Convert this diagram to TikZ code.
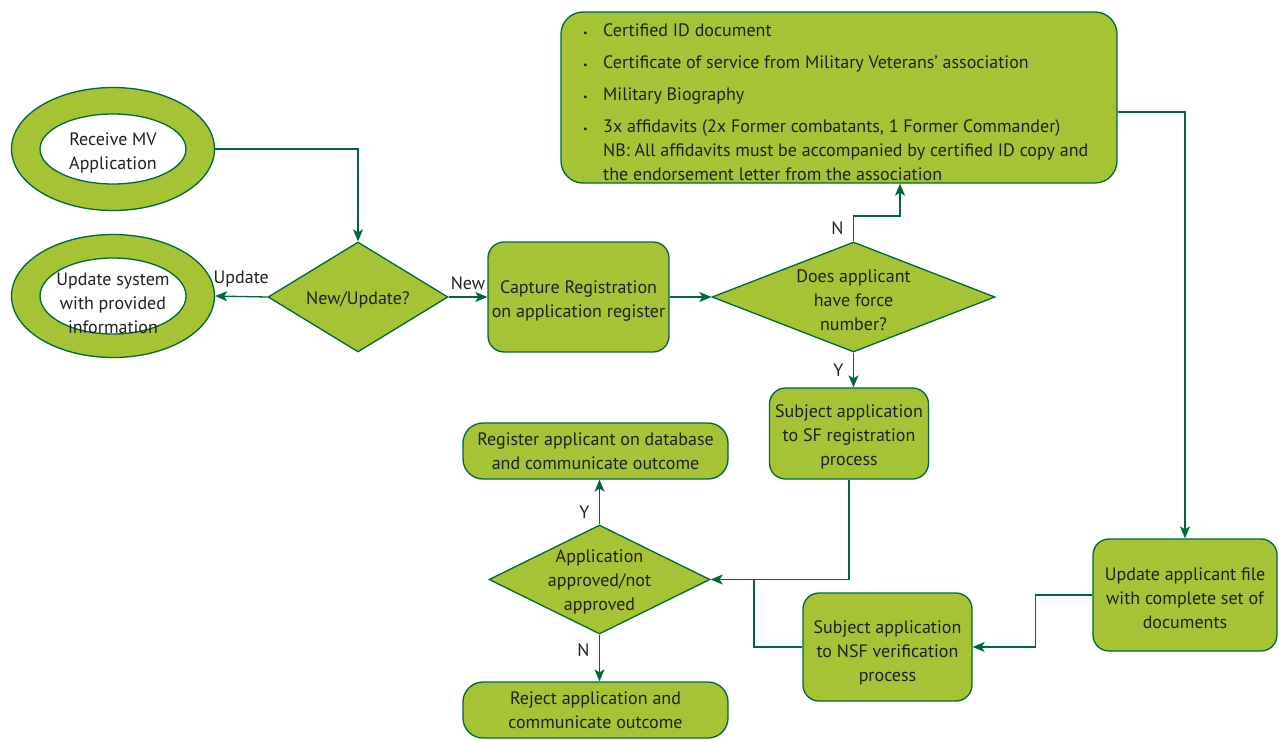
\documentclass[tikz,border=0pt]{standalone}
\usepackage{fontspec}
\setmainfont{PT Sans}
\usetikzlibrary{shapes.geometric,arrows.meta}
\definecolor{leaf}{RGB}{165,195,53}
\definecolor{dkg}{RGB}{0,104,56}
\definecolor{ink}{RGB}{35,31,32}
\newcommand{\bul}{\makebox[20pt][l]{\fontsize{10}{10}\selectfont\textbullet}}
\newcommand{\dn}[1]{\rule{0pt}{#1pt}}
\begin{document}
\begin{tikzpicture}[x=1pt,y=-1pt,
 font=\fontsize{18}{24}\selectfont, text=ink,
 box/.style={draw=dkg, fill=leaf, line width=1.3pt, rounded corners=16pt, align=center, inner sep=0pt},
 dia/.style={draw=dkg, fill=leaf, line width=1.3pt, diamond, inner sep=0pt},
 oval/.style={draw=dkg, fill=leaf, line width=1.3pt, ellipse, inner sep=0pt, minimum width=203pt, minimum height=123pt},
 innerov/.style={draw=dkg, fill=white, line width=1.3pt},
 conn/.style={draw=dkg, line width=1.3pt},
 arr/.style={conn, -{Stealth[length=12pt,width=10pt,inset=3pt]}},
 lbl/.style={align=center, text=ink}
]
\useasboundingbox (0,0) rectangle (1279,739);

% start / update ovals
\node[oval] (e1) at (113,149) {};
\draw[innerov] (e1.center) ellipse (73pt and 35pt);
\node[lbl] (t1) at (113,153) {Receive MV\\Application};

\node[oval] (e2) at (113,296) {};
\draw[innerov] (e2.center) ellipse (73pt and 38pt);
\node[lbl] (t2) at (113,303) {Update system\\with provided\\information};

% decisions and boxes
\node[dia, minimum width=180pt, minimum height=110pt, label={[lbl, yshift=-3pt]center:New/Update?}] (d1) at (358,297) {};
\node[box, minimum width=181pt, minimum height=110pt] (cap) at (578.5,297) {\dn{21}Capture Registration\\on application register};
\node[dia, minimum width=283pt, minimum height=110pt, label={[lbl, yshift=-3pt]center:Does applicant\\have force\\number?}] (d2) at (853.5,297) {};

\node[box, minimum width=556pt, minimum height=171pt, rounded corners=22pt] (docs) at (839,97.5) {};
\node[anchor=west, align=left, inner sep=0pt] (doclist) at (583,102) {%
\bul Certified ID document\\[8pt]
\bul Certificate of service from Military Veterans’ association\\[8pt]
\bul Military Biography\\[8pt]
\bul 3x affidavits (2x Former combatants, 1 Former Commander)\\
\hspace*{20pt}NB: All affidavits must be accompanied by certified ID copy and\\
\hspace*{20pt}the endorsement letter from the association};

\node[box, minimum width=159pt, minimum height=91pt] (sf) at (849,433.5) {\dn{19}Subject application\\to SF registration\\process};
\node[box, minimum width=169pt, minimum height=108pt] (nsf) at (887.5,647) {\dn{25}Subject application\\to NSF verification\\process};
\node[box, minimum width=184pt, minimum height=112pt] (upd) at (1185,595) {\dn{19}Update applicant file\\with complete set of\\documents};

\node[dia, minimum width=221pt, minimum height=109pt, label={[lbl, yshift=-2pt]center:Application\\approved/not\\approved}] (d3) at (599.5,579.5) {};
\node[box, minimum width=265pt, minimum height=56pt, rounded corners=20pt] (reg) at (595.5,451) {Register applicant on database\\and communicate outcome};
\node[box, minimum width=265pt, minimum height=56pt, rounded corners=20pt] (rej) at (595.5,710) {Reject application and\\communicate outcome};

% connectors
\coordinate (nturn) at (900,216);
\coordinate (dr) at (1185,112);
\coordinate (jn) at (754,579.5);

\draw[arr] (e1.east) -| (d1.north);
\draw[arr] (d1.west) -- node[above=5pt, lbl]{Update} (e2.east);
\draw[arr] (d1.east) -- node[above=3pt, lbl]{New} (cap.west |- d1.east);
\draw[arr] (cap.east |- d2.west) -- (d2.west);
\draw[arr] (d2.north) -- node[left=6pt, lbl]{N} (d2.north |- nturn) -- (nturn) -- (nturn |- docs.south);
\draw[arr] (d2.south) -- node[left=6pt, lbl]{Y} (d2.south |- sf.north);
\draw[arr] (docs.east |- dr) -- (dr) -- (upd.north);
\draw[arr] (upd.west) -- ++(-57,0) |- (nsf.east);
\draw[arr] (sf.south) |- (d3.east);
\draw[conn] (nsf.west) -| (jn);
\draw[arr] (d3.north) -- node[left=6pt, pos=0.27, lbl]{Y} (d3.north |- reg.south);
\draw[arr] (d3.south) -- node[left=6pt, pos=0.33, lbl]{N} (d3.south |- rej.north);
\end{tikzpicture}
\end{document}
